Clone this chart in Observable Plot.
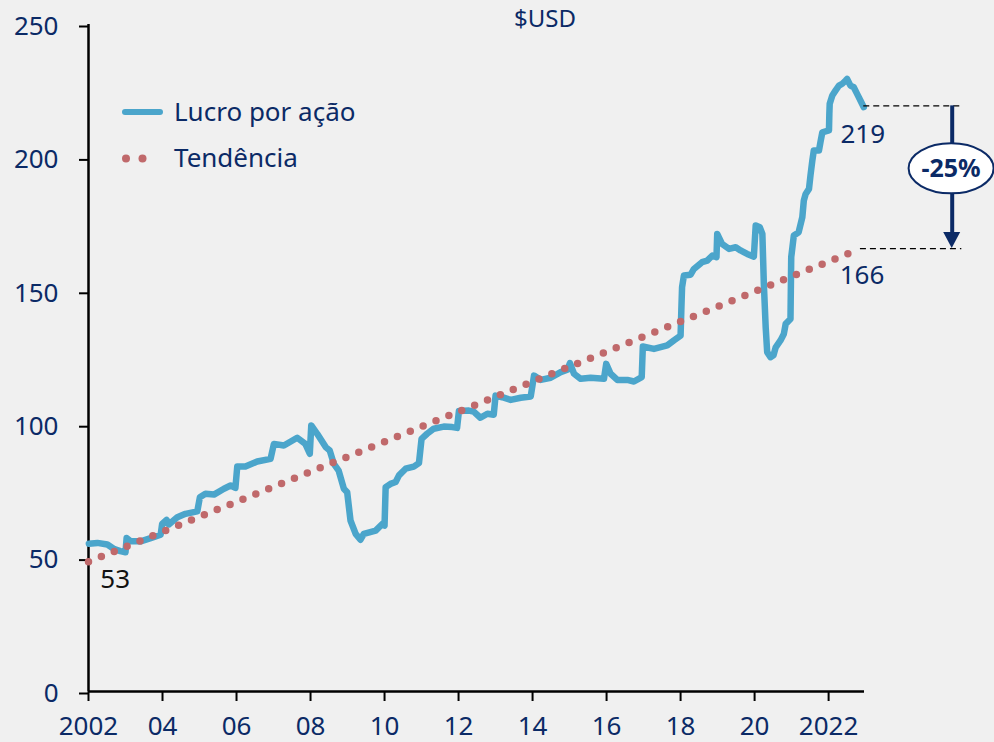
<!DOCTYPE html>
<html>
<head>
<meta charset="utf-8">
<script src="https://cdn.jsdelivr.net/npm/d3@7"></script>
<script src="https://cdn.jsdelivr.net/npm/@observablehq/plot@0.6"></script>
<style>
  html, body { margin: 0; padding: 0; background: #f0f0f0; }
  #chart svg { display: block; }
</style>
</head>
<body>
<div id="chart"></div>
<script>
// Earnings per share (Lucro por ação), decimal years
const dates = [2002.01,2002.24,2002.51,2002.68,2002.86,2003.00,2003.03,2003.14,2003.41,2003.68,2003.95,
  2003.99,2004.11,2004.17,2004.40,2004.62,2004.94,2005.01,2005.16,2005.39,2005.66,2005.84,2005.97,
  2006.02,2006.24,2006.56,2006.92,2007.01,2007.28,2007.64,2007.86,2007.98,2008.02,2008.18,2008.41,
  2008.52,2008.63,2008.76,2008.90,2008.99,2009.08,2009.22,2009.35,2009.44,2009.76,2009.94,2010.00,
  2010.03,2010.16,2010.30,2010.39,2010.57,2010.79,2010.93,2011.00,2011.15,2011.33,2011.60,2011.83,
  2011.96,2012.01,2012.28,2012.41,2012.59,2012.78,2012.95,2013.00,2013.18,2013.41,2013.68,2013.95,
  2014.04,2014.22,2014.49,2014.76,2014.94,2015.01,2015.12,2015.30,2015.57,2015.93,2015.99,2016.11,
  2016.29,2016.56,2016.74,2016.95,2016.98,2017.28,2017.64,2017.82,2018.00,2018.02,2018.04,2018.09,
  2018.27,2018.36,2018.58,2018.72,2018.86,2018.97,2018.99,2019.12,2019.31,2019.49,2019.62,2019.80,
  2019.98,2020.03,2020.14,2020.21,2020.25,2020.30,2020.34,2020.43,2020.51,2020.57,2020.70,2020.79,
  2020.84,2020.97,2020.99,2021.06,2021.19,2021.29,2021.33,2021.38,2021.47,2021.51,2021.56,2021.60,
  2021.74,2021.78,2021.83,2022.01,2022.02,2022.03,2022.10,2022.19,2022.28,2022.37,2022.46,2022.50,
  2022.59,2022.68,2022.77,2022.86,2022.95];
const eps = [55.4,55.7,55.1,53.5,52.6,52.2,57.5,56.3,56.3,57.5,58.8,
  62.8,64.3,62.6,65.3,66.6,67.5,72.8,74.1,73.8,76.0,77.2,76.3,
  84.3,84.3,86.2,87.2,92.8,92.2,95.1,92.8,89.1,99.7,96.6,91.6,
  90.3,85.3,82.8,76.0,74.7,64.1,59.1,56.9,59.1,60.3,62.8,62.2,
  76.6,77.8,78.5,81.0,83.5,84.3,85.6,94.7,96.6,98.5,99.3,99.1,
  98.8,105.1,105.3,104.9,102.6,104.1,103.7,110.9,110.3,109.3,110.1,110.6,
  118.4,116.8,117.6,119.7,120.6,123.1,119.1,117.2,117.6,117.2,122.8,119.1,
  116.8,116.8,116.2,117.8,129.3,128.4,129.7,131.6,133.4,142.8,151.5,155.9,
  156.2,158.4,160.9,161.5,163.4,162.8,171.5,167.8,165.9,166.5,165.3,164.0,
  163.0,174.7,174.0,171.5,152.8,136.5,127.2,125.3,126.0,129.0,131.6,134.0,
  137.8,139.6,162.8,170.9,172.1,177.8,184.0,186.5,188.4,193.4,199.0,202.8,
  202.8,205.9,209.6,210.3,216.5,220.3,223.4,225.3,227.1,227.8,229.0,229.6,
  227.1,226.5,224.0,221.5,219.0];

// Trend (Tendência): straight line between its two ends
const trendDates = [2002.0, 2022.86];
const trendValues = [48.6, 166];

// Axis ticks
const xTicks = [2002,2004,2006,2008,2010,2012,2014,2016,2018,2020,2022];
const xTickLabels = ["2002","04","06","08","10","12","14","16","18","20","2022"];
const yTicks = [0,50,100,150,200,250];

// Annotations
const lastValue = 219;   // last EPS
const trendLast = 166;   // last trend value
const firstLabel = 53;   // first label
const changeLabel = "-25%";
const arrowX = 2025.34;
const dashEndX = 2025.6;

const NAVY = "#0b2a66";
const BLUE = "#4ba5cb";
const RED = "#c0696b";
const FONT = "Noto Sans, Open Sans, sans-serif";

const chart = Plot.plot({
  width: 994,
  height: 742,
  marginLeft: 88,
  marginRight: 130,
  marginTop: 24,
  marginBottom: 51,
  style: { background: "#f0f0f0", fontFamily: FONT, fontSize: "26px", overflow: "visible" },
  x: { domain: [2002, 2022.97] },
  y: { domain: [0, 250] },
  marks: [
    Plot.axisY({ ticks: yTicks, tickSize: 9, tickPadding: 21, stroke: "#000", strokeWidth: 2,
                 fill: NAVY, fontSize: 26, label: null, dy: 2 }),
    Plot.axisX({ ticks: xTicks, tickSize: 10, tickPadding: 15, stroke: "#000", strokeWidth: 2,
                 fill: NAVY, fontSize: 26, label: null,
                 tickFormat: d => xTickLabels[xTicks.indexOf(d)] }),
    Plot.ruleX([2002], { stroke: "#000", strokeWidth: 2.5 }),
    Plot.ruleY([0], { stroke: "#000", strokeWidth: 2.5 }),
    // EPS line
    Plot.line(eps, { x: dates, y: eps, stroke: BLUE, strokeWidth: 6.5,
                     strokeLinejoin: "round", strokeLinecap: "round" }),
    // Trend dotted
    Plot.line(trendValues, { x: trendDates, y: trendValues, stroke: RED, strokeWidth: 7.5,
                             strokeLinecap: "round", strokeDasharray: "0 13.89" }),
    // dashed reference lines
    Plot.ruleY([lastValue + 0.5], { x1: dates[dates.length - 1], x2: dashEndX, stroke: "#000",
                                     strokeWidth: 1.2, strokeDasharray: "6 4" }),
    Plot.ruleY([trendLast], { x1: trendDates[1], x2: dashEndX, stroke: "#000",
                              strokeWidth: 1.2, strokeDasharray: "6 4" }),
    // arrow shaft
    Plot.ruleX([arrowX], { y1: lastValue + 0.5, y2: trendLast + 6, stroke: NAVY, strokeWidth: 4 }),
    // value labels
    Plot.text([lastValue], { x: 2022.32, y: 208.6, text: d => String(d), textAnchor: "start",
                             fill: NAVY, fontSize: 26 }),
    Plot.text([trendLast], { x: 2022.30, y: 155.7, text: d => String(d), textAnchor: "start",
                             fill: NAVY, fontSize: 26 }),
    Plot.text([firstLabel], { x: 2002.32, y: 41.8, text: d => String(d), textAnchor: "start",
                              fill: "#111", fontSize: 26 })
  ]
});

const svg = d3.select(chart);
const sx = chart.scale("x"), sy = chart.scale("y");

// arrowhead and badge
{
  const px = sx.apply(arrowX), py = sy.apply(trendLast);
  svg.append("path")
    .attr("d", `M${px - 8.5},${py - 16}L${px + 8.5},${py - 16}L${px},${py}Z`)
    .attr("fill", NAVY);
  const cy = sy.apply(195.9);
  svg.append("ellipse").attr("cx", px - 0.6).attr("cy", cy).attr("rx", 42.5).attr("ry", 25)
    .attr("fill", "#fff").attr("stroke", NAVY).attr("stroke-width", 2);
  svg.append("text").attr("x", px - 0.6).attr("y", cy + 9).attr("text-anchor", "middle")
    .attr("font-family", FONT).attr("font-size", 25).attr("font-weight", "bold")
    .attr("fill", NAVY).text(changeLabel);
}

// title
svg.append("text").attr("x", 545).attr("y", 27).attr("text-anchor", "middle")
  .attr("font-family", FONT).attr("font-size", 24).attr("fill", NAVY).text("$USD");

// legend
const lg = svg.append("g").attr("text-anchor", "start");
lg.append("line").attr("x1", 125).attr("x2", 160).attr("y1", 112).attr("y2", 112)
  .attr("stroke", BLUE).attr("stroke-width", 6).attr("stroke-linecap", "round");
lg.append("text").attr("x", 174).attr("y", 121).attr("text-anchor", "start")
  .attr("font-family", FONT).attr("font-size", 26).attr("fill", NAVY).text("Lucro por ação");
[126, 142.5].forEach(cx => lg.append("circle").attr("cx", cx).attr("cy", 158.5).attr("r", 4)
  .attr("fill", RED));
lg.append("text").attr("x", 174).attr("y", 166.5).attr("text-anchor", "start")
  .attr("font-family", FONT).attr("font-size", 26).attr("fill", NAVY).text("Tendência");

document.getElementById("chart").appendChild(chart);
</script>
</body>
</html>
